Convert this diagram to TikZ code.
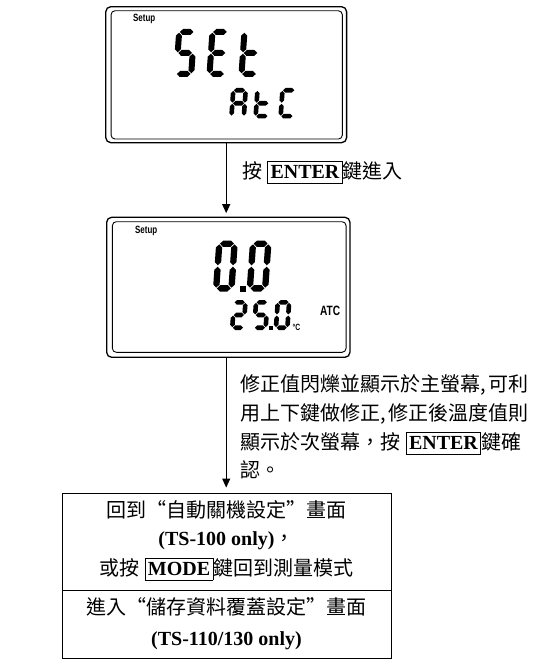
\documentclass[tikz,border=0pt]{standalone}
\usepackage{fontspec}
\setmainfont{Liberation Serif}
\newfontfamily\cjk{Noto Sans CJK TC}
\newfontfamily\lcdsans{Liberation Sans}
\usetikzlibrary{arrows.meta}
\newcommand\keybox[1]{{\setlength\fboxsep{2.5pt}\setlength\fboxrule{0.8pt}\fbox{\rule[-2pt]{0pt}{16.5pt}\bfseries #1}}}
\newcommand\oq{\makebox[1em][r]{“}}
\newcommand\cq{\makebox[1em][l]{”}}
\newcommand\hc{\makebox[0.4em][l]{,}}
% seven segment helpers
\def\dW{20}\def\dH{48}\def\dT{5}\def\dg{0.8}
\newcommand\lcdsize[4]{\def\dW{#1}\def\dH{#2}\def\dT{#3}\def\dg{#4}}
\newcommand\hseg[3]{\fill (#1+\dg,#3) -- (#1+\dg+\dT/2,#3+\dT/2) -- (#2-\dg-\dT/2,#3+\dT/2) -- (#2-\dg,#3) -- (#2-\dg-\dT/2,#3-\dT/2) -- (#1+\dg+\dT/2,#3-\dT/2) -- cycle;}
\newcommand\vseg[3]{\fill (#1,#2+\dg) -- (#1+\dT/2,#2+\dg+\dT/2) -- (#1+\dT/2,#3-\dg-\dT/2) -- (#1,#3-\dg) -- (#1-\dT/2,#3-\dg-\dT/2) -- (#1-\dT/2,#2+\dg+\dT/2) -- cycle;}
\def\lsga{\hseg{\dT/2}{\dW-\dT/2}{\dH-\dT/2}}
\def\lsgg{\hseg{\dT/2}{\dW-\dT/2}{\dH/2}}
\def\lsgd{\hseg{\dT/2}{\dW-\dT/2}{\dT/2}}
\def\lsgf{\vseg{\dT/2}{\dH/2}{\dH-\dT/2}}
\def\lsge{\vseg{\dT/2}{\dT/2}{\dH/2}}
\def\lsgb{\vseg{\dW-\dT/2}{\dH/2}{\dH-\dT/2}}
\def\lsgc{\vseg{\dW-\dT/2}{\dT/2}{\dH/2}}
\newcommand\sdigit[3]{\begin{scope}[shift={(#1,#2)},y=1pt,xslant=0.07]\foreach \s in {#3}{\csname lsg\s\endcsname}\end{scope}}
\newcommand\sdot[3]{\fill (#1,#2) rectangle ++(#3,-#3);}
\begin{document}
\begin{tikzpicture}[x=1pt,y=-1pt,
  outerframe/.style={draw,rounded corners=5pt,line width=1.3pt,inner sep=0},
  innerframe/.style={draw,rounded corners=4pt,line width=0.9pt,inner sep=0},
  txt/.style={inner sep=0,font=\fontsize{20}{24}\selectfont},
  lcdtxt/.style={inner sep=0,font=\lcdsans\bfseries},
  arr/.style={line width=1pt,-{Triangle[width=8pt,length=9pt]}}]
\useasboundingbox (0,0) rectangle (551,671);
% LCD 1
\node[outerframe,minimum width=240.8pt,minimum height=136pt] (lcd1) at (226.2,74.7) {};
\node[innerframe,minimum width=231.3pt,minimum height=128.3pt] (lcd1in) at (226.7,74.9) {};
\node[lcdtxt,anchor=base west,font=\lcdsans\bfseries\fontsize{10.5}{12}\selectfont,xscale=0.76] (setup1) at (133,21.2) {Setup};
\lcdsize{21}{48}{6}{0.7}
\sdigit{173}{77}{a,f,g,c,d}
\sdigit{206.3}{77}{a,f,g,e,d}
\sdigit{238.3}{77}{f,e,g,d}
\lcdsize{17}{30.5}{4.6}{0.6}
\sdigit{229}{118.5}{a,b,c,e,f,g}
\sdigit{253.2}{118.5}{f,e,g,d}
\sdigit{278.2}{118.5}{a,f,e,d}
% LCD 2
\node[outerframe,minimum width=243.3pt,minimum height=140pt] (lcd2) at (228.3,287.3) {};
\node[innerframe,minimum width=233.7pt,minimum height=130.6pt] (lcd2in) at (229.2,287) {};
\node[lcdtxt,anchor=base west,font=\lcdsans\bfseries\fontsize{10.5}{12}\selectfont,xscale=0.76] (setup2) at (135,233.6) {Setup};
\lcdsize{21.6}{51}{6.3}{0.7}
\sdigit{212.8}{291.5}{a,b,c,d,e,f}
\sdot{240.3}{291.5}{5.5}
\sdigit{246.5}{291.5}{a,b,c,d,e,f}
\lcdsize{16}{30}{4.6}{0.6}
\sdigit{229.8}{330}{a,b,g,e,d}
\sdigit{251.8}{330}{a,f,g,c,d}
\sdot{268.8}{330}{4}
\sdigit{273.5}{330}{a,b,c,d,e,f}
\node[lcdtxt,anchor=base west,font=\lcdsans\bfseries\fontsize{9}{10}\selectfont,xscale=0.75] (degc) at (292.5,330.5) {°C};
\node[lcdtxt,anchor=base west,font=\lcdsans\bfseries\fontsize{13.5}{15}\selectfont,xscale=0.75] (atc) at (320,315) {ATC};
% arrows and texts
\draw[arr,shorten >=3.5pt] (lcd1.south) -- (lcd1.south |- lcd2.north);
\node[txt,anchor=base west] (t1) at (242,178.5) {{\cjk 按} \keybox{ENTER}{\cjk 鍵進入}};
\node[txt,anchor=base west] (p1) at (240.5,391.5) {\cjk 修正值閃爍並顯示於主螢幕\hc 可利};
\node[txt,anchor=base west] (p2) at (240.5,420.5) {\cjk 用上下鍵做修正\hc 修正後溫度值則};
\node[txt,anchor=base west] (p3) at (240.5,449.5) {{\cjk 顯示於次螢幕，按} \keybox{ENTER}{\cjk 鍵確}};
\node[txt,anchor=base west] (p4) at (240.5,477.5) {\cjk 認。};
% table
\node[draw,line width=0.9pt,minimum width=329pt,minimum height=165pt,inner sep=0] (tab) at (226.5,575.5) {};
\coordinate (divl) at (62,590);
\coordinate (divr) at (391,590);
\draw[line width=0.9pt] (divl) -- (divr);
\draw[arr,shorten >=5pt] (lcd1.south |- lcd2.south) -- (lcd1.south |- tab.north);
\node[txt,anchor=base] (r1) at (226.5,517.5) {\cjk 回到\oq 自動關機設定\cq 畫面};
\node[txt,anchor=base] (r2) at (226.5,545) {{\bfseries (TS-100 only)}{\cjk ，}};
\node[txt,anchor=base] (r3) at (226.5,575.5) {{\cjk 或按} \keybox{MODE}{\cjk 鍵回到測量模式}};
\node[txt,anchor=base] (r4) at (226.5,614) {\cjk 進入\oq 儲存資料覆蓋設定\cq 畫面};
\node[txt,anchor=base] (r5) at (226.5,645) {\bfseries (TS-110/130 only)};
\end{tikzpicture}
\end{document}
